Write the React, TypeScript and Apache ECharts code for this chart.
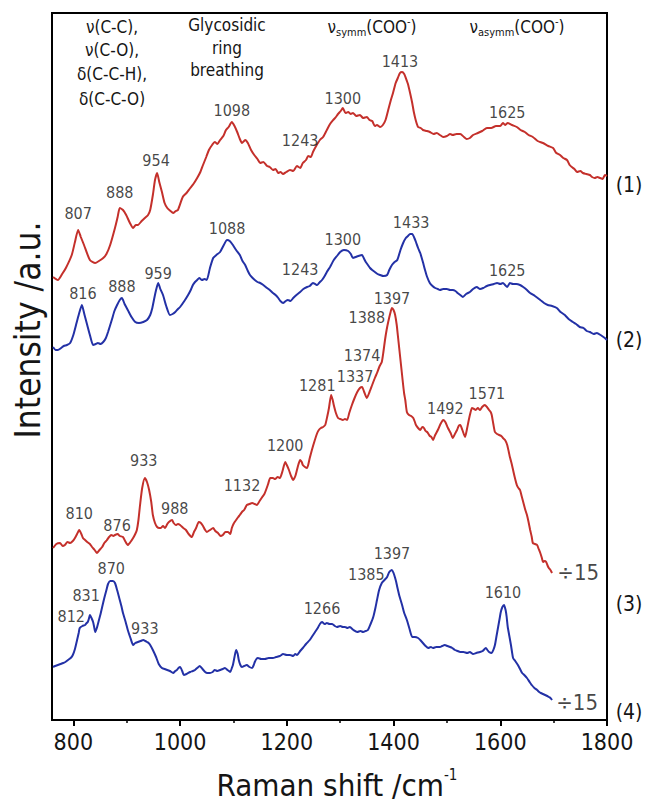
import React, { useEffect, useRef } from "react";
import * as echarts from "echarts";

// x axis: Raman shift (cm-1)
const xTicks = [800, 1000, 1200, 1400, 1600, 1800];
const xMinorTicks = [900, 1100, 1300, 1500, 1700];

// Spectrum (1) – red, top  [shift, intensity a.u.]
const spectrum1 = [
  [762, 443], [771, 440], [779, 446], [786, 452], [797, 465], [803, 478], [809, 490], [814, 483], [820, 475], [831, 460],
  [841, 457], [848, 459], [856, 462], [862, 466], [869, 475], [878, 492], [883, 503], [887, 512], [893, 510], [899, 505],
  [906, 497], [912, 492], [917, 495], [921, 495], [928, 499], [934, 502], [940, 505], [944, 510], [949, 525], [953, 540],
  [957, 547], [961, 538], [966, 528], [971, 517], [976, 512], [982, 509], [987, 507], [992, 509], [996, 510], [1005, 523],
  [1012, 527], [1019, 532], [1025, 536], [1032, 542], [1038, 548], [1043, 555], [1049, 563], [1054, 570], [1060, 575],
  [1065, 578], [1070, 576], [1075, 580], [1081, 584], [1086, 590], [1091, 593], [1097, 598], [1102, 594], [1107, 588],
  [1112, 581], [1116, 577], [1122, 580], [1127, 577], [1133, 570], [1139, 565], [1145, 561], [1150, 557], [1156, 558],
  [1163, 554], [1168, 553], [1174, 550], [1179, 551], [1184, 547], [1188, 548], [1193, 546], [1199, 548], [1206, 550],
  [1212, 549], [1219, 554], [1225, 552], [1230, 557], [1236, 560], [1240, 564], [1245, 563], [1249, 568], [1255, 574],
  [1262, 580], [1268, 583], [1275, 590], [1281, 596], [1287, 600], [1292, 603], [1296, 606], [1301, 609], [1305, 612],
  [1310, 607], [1315, 608], [1320, 606], [1324, 607], [1330, 604], [1337, 605], [1343, 602], [1350, 603], [1355, 600],
  [1360, 599], [1365, 594], [1369, 595], [1375, 593], [1380, 595], [1385, 600], [1390, 610], [1395, 620], [1399, 627],
  [1404, 637], [1408, 642], [1412, 647], [1416, 648], [1420, 646], [1423, 642], [1427, 636], [1431, 627], [1435, 617],
  [1438, 608], [1442, 599], [1446, 593], [1451, 592], [1455, 590], [1462, 589], [1468, 588], [1475, 586], [1481, 587],
  [1487, 585], [1493, 583], [1500, 584], [1506, 586], [1511, 585], [1518, 586], [1525, 586], [1532, 583], [1537, 581],
  [1543, 582], [1549, 585], [1558, 587], [1566, 589], [1575, 592], [1583, 592], [1592, 594], [1600, 594], [1605, 597],
  [1609, 595], [1614, 597], [1622, 595], [1631, 593], [1638, 590], [1646, 588], [1653, 585], [1661, 583], [1670, 579],
  [1680, 577], [1690, 574], [1699, 572], [1705, 567], [1712, 565], [1718, 562], [1725, 560], [1730, 555], [1734, 553],
  [1739, 551], [1744, 548], [1750, 549], [1755, 547], [1761, 546], [1768, 545], [1772, 543], [1777, 542], [1782, 543],
  [1787, 542], [1792, 541], [1796, 545], [1800, 544],
];

// Spectrum (2) – blue
const spectrum2 = [
  [762, 373], [767, 370], [771, 370], [777, 372], [782, 374], [788, 375], [794, 377], [800, 385], [805, 395], [810, 405],
  [816, 415], [821, 405], [826, 395], [831, 385], [837, 375], [842, 376], [846, 377], [851, 376], [856, 378], [861, 382],
  [865, 388], [872, 400], [877, 409], [882, 415], [887, 420], [891, 422], [896, 416], [902, 410], [909, 403], [916, 398],
  [923, 397], [931, 398], [938, 400], [944, 405], [948, 412], [951, 420], [955, 430], [959, 437], [963, 431], [968, 425],
  [974, 414], [981, 405], [986, 406], [991, 408], [996, 411], [1000, 413], [1008, 419], [1015, 425], [1020, 430],
  [1024, 435], [1028, 438], [1032, 440], [1036, 442], [1041, 440], [1046, 441], [1050, 440], [1056, 452], [1062, 462],
  [1068, 465], [1075, 468], [1081, 474], [1088, 480], [1093, 479], [1099, 475], [1105, 470], [1112, 465], [1117, 459],
  [1122, 455], [1127, 449], [1131, 445], [1136, 442], [1140, 440], [1145, 438], [1150, 437], [1156, 435], [1163, 432],
  [1168, 430], [1174, 427], [1179, 425], [1184, 422], [1188, 419], [1193, 417], [1198, 419], [1202, 420], [1207, 419],
  [1212, 422], [1218, 425], [1225, 428], [1231, 431], [1238, 433], [1243, 434], [1249, 437], [1253, 436], [1257, 435],
  [1262, 438], [1266, 440], [1271, 444], [1275, 448], [1281, 453], [1288, 460], [1294, 464], [1300, 468], [1307, 470],
  [1315, 469], [1320, 466], [1324, 462], [1329, 463], [1334, 464], [1341, 465], [1345, 461], [1348, 458], [1352, 455],
  [1356, 452], [1360, 450], [1365, 448], [1370, 446], [1375, 445], [1381, 444], [1388, 445], [1392, 450], [1397, 455],
  [1402, 458], [1407, 460], [1413, 470], [1418, 477], [1423, 482], [1427, 484], [1431, 486], [1435, 486], [1439, 482],
  [1442, 478], [1446, 472], [1450, 467], [1455, 458], [1459, 450], [1463, 443], [1468, 437], [1473, 434], [1478, 432],
  [1483, 431], [1487, 430], [1493, 431], [1500, 431], [1506, 430], [1511, 430], [1516, 429], [1520, 427], [1525, 425],
  [1530, 423], [1536, 426], [1543, 428], [1549, 431], [1556, 433], [1562, 431], [1568, 432], [1575, 434], [1581, 435],
  [1588, 436], [1594, 437], [1600, 436], [1605, 437], [1609, 435], [1613, 433], [1618, 437], [1624, 436], [1630, 436],
  [1637, 435], [1643, 433], [1650, 430], [1656, 427], [1665, 424], [1675, 420], [1682, 417], [1689, 415], [1697, 414],
  [1706, 412], [1713, 408], [1721, 405], [1728, 401], [1736, 398], [1742, 396], [1749, 393], [1756, 392], [1762, 389],
  [1768, 388], [1775, 386], [1781, 387], [1788, 385], [1796, 382], [1800, 380],
];

// Spectrum (3) – red, divided by 15
const spectrum3 = [
  [762, 172], [768, 176], [775, 177], [780, 174], [784, 175], [789, 178], [794, 177], [799, 179], [803, 182], [807, 186],
  [811, 190], [815, 186], [818, 182], [822, 180], [826, 178], [831, 176], [835, 173], [840, 170], [844, 167], [849, 170],
  [854, 173], [858, 177], [863, 180], [867, 183], [871, 185], [875, 184], [878, 185], [883, 186], [887, 184], [893, 183],
  [897, 179], [902, 175], [907, 178], [912, 182], [916, 186], [919, 190], [922, 200], [925, 215], [929, 232], [934, 242],
  [938, 238], [942, 230], [946, 218], [949, 205], [953, 197], [957, 193], [961, 192], [964, 192], [968, 194], [972, 192],
  [976, 196], [979, 198], [985, 200], [988, 197], [992, 195], [996, 196], [1000, 195], [1006, 192], [1011, 190],
  [1016, 186], [1022, 183], [1026, 188], [1030, 192], [1035, 198], [1039, 197], [1043, 194], [1047, 190], [1050, 188],
  [1056, 190], [1062, 192], [1066, 189], [1071, 187], [1076, 184], [1080, 185], [1085, 188], [1090, 188], [1094, 186],
  [1097, 192], [1101, 197], [1105, 200], [1109, 203], [1112, 205], [1116, 208], [1120, 210], [1123, 213], [1125, 215],
  [1130, 216], [1135, 217], [1140, 216], [1144, 215], [1149, 219], [1154, 223], [1158, 226], [1161, 230], [1165, 236],
  [1169, 242], [1174, 242], [1178, 241], [1183, 243], [1187, 242], [1192, 249], [1197, 258], [1200, 255], [1204, 250],
  [1208, 244], [1212, 240], [1216, 244], [1219, 250], [1222, 256], [1225, 260], [1228, 258], [1230, 255], [1234, 253],
  [1238, 252], [1243, 262], [1247, 270], [1252, 279], [1257, 287], [1260, 290], [1264, 292], [1268, 293], [1272, 295],
  [1276, 304], [1279, 312], [1283, 325], [1286, 320], [1288, 315], [1292, 307], [1296, 302], [1300, 301], [1305, 300],
  [1309, 301], [1313, 300], [1317, 307], [1322, 315], [1327, 322], [1332, 328], [1337, 332], [1341, 333], [1345, 328],
  [1350, 322], [1355, 328], [1360, 335], [1365, 342], [1369, 347], [1374, 354], [1378, 358], [1381, 368], [1384, 380],
  [1387, 390], [1390, 398], [1394, 407], [1397, 412], [1400, 410], [1403, 405], [1406, 395], [1408, 385], [1411, 370],
  [1414, 355], [1416, 345], [1418, 335], [1420, 326], [1422, 320], [1425, 308], [1429, 305], [1433, 304], [1437, 302],
  [1440, 298], [1442, 295], [1446, 292], [1450, 290], [1454, 293], [1457, 292], [1460, 289], [1463, 288], [1468, 284],
  [1471, 283], [1474, 280], [1478, 285], [1483, 290], [1488, 296], [1493, 300], [1497, 298], [1502, 292], [1507, 287],
  [1511, 282], [1515, 286], [1519, 290], [1522, 294], [1525, 295], [1529, 290], [1534, 283], [1538, 292], [1541, 300],
  [1544, 307], [1547, 312], [1551, 311], [1554, 310], [1558, 312], [1562, 310], [1566, 313], [1571, 315], [1575, 313],
  [1579, 310], [1582, 308], [1584, 305], [1587, 296], [1590, 288], [1594, 286], [1598, 285], [1602, 284], [1605, 282],
  [1609, 280], [1613, 275], [1616, 268], [1618, 263], [1621, 257], [1624, 250], [1627, 243], [1631, 235], [1634, 232],
  [1637, 230], [1640, 224], [1643, 218], [1647, 210], [1650, 205], [1653, 198], [1656, 190], [1659, 183], [1661, 177],
  [1665, 176], [1669, 175], [1672, 171], [1675, 167], [1678, 162], [1680, 158], [1683, 159], [1686, 158], [1689, 154],
  [1691, 152], [1694, 150], [1697, 147],
];

// Spectrum (4) – blue, divided by 15
const spectrum4 = [
  [762, 53], [766, 54], [771, 55], [776, 56], [781, 57], [785, 58], [790, 60], [795, 62], [799, 65], [803, 71],
  [807, 80], [810, 87], [812, 92], [817, 94], [822, 95], [825, 97], [827, 98], [829, 101], [831, 105], [834, 102],
  [837, 98], [839, 93], [841, 88], [844, 92], [848, 100], [851, 106], [854, 113], [858, 122], [862, 130], [865, 136],
  [869, 139], [874, 139], [878, 137], [882, 130], [886, 122], [890, 114], [893, 107], [898, 98], [902, 90], [907, 82],
  [912, 75], [916, 77], [921, 78], [926, 79], [931, 80], [935, 79], [938, 78], [941, 77], [944, 75], [949, 70],
  [955, 63], [960, 56], [966, 52], [971, 51], [976, 50], [981, 49], [987, 47], [991, 49], [994, 50], [997, 52],
  [1000, 53], [1004, 49], [1007, 45], [1012, 46], [1019, 48], [1024, 49], [1028, 50], [1032, 52], [1037, 54],
  [1042, 51], [1047, 48], [1051, 47], [1056, 47], [1061, 48], [1065, 50], [1070, 49], [1075, 50], [1080, 51],
  [1084, 52], [1089, 50], [1094, 48], [1097, 52], [1099, 55], [1102, 63], [1105, 70], [1108, 66], [1110, 60],
  [1113, 55], [1116, 53], [1120, 54], [1125, 55], [1130, 53], [1135, 52], [1138, 55], [1140, 58], [1143, 61],
  [1146, 62], [1152, 61], [1159, 61], [1166, 62], [1174, 62], [1180, 63], [1187, 64], [1193, 66], [1200, 65],
  [1206, 65], [1212, 64], [1216, 66], [1219, 65], [1225, 69], [1230, 72], [1236, 76], [1243, 80], [1248, 84],
  [1253, 88], [1258, 92], [1262, 96], [1266, 98], [1271, 96], [1275, 97], [1280, 96], [1285, 96], [1290, 94],
  [1294, 93], [1300, 94], [1305, 93], [1309, 93], [1314, 92], [1318, 93], [1325, 90], [1332, 88], [1338, 89],
  [1343, 88], [1348, 89], [1352, 90], [1357, 96], [1362, 103], [1366, 112], [1369, 120], [1373, 130], [1378, 137],
  [1383, 140], [1388, 143], [1392, 148], [1397, 150], [1400, 147], [1403, 142], [1405, 138], [1407, 133], [1411, 124],
  [1416, 115], [1420, 107], [1425, 100], [1430, 91], [1435, 83], [1440, 83], [1446, 82], [1450, 80], [1455, 77],
  [1460, 74], [1465, 72], [1470, 73], [1474, 72], [1480, 73], [1487, 73], [1491, 74], [1496, 75], [1501, 74],
  [1506, 73], [1510, 72], [1515, 70], [1520, 69], [1525, 68], [1531, 68], [1538, 67], [1543, 68], [1549, 66],
  [1555, 67], [1562, 68], [1567, 69], [1573, 72], [1576, 70], [1579, 68], [1584, 67], [1587, 70], [1590, 75],
  [1593, 84], [1596, 93], [1599, 102], [1601, 108], [1604, 113], [1607, 115], [1610, 110], [1612, 103], [1614, 93],
  [1617, 84], [1620, 75], [1622, 68], [1624, 62], [1628, 59], [1633, 55], [1637, 51], [1641, 47], [1645, 45],
  [1650, 42], [1655, 38], [1659, 35], [1664, 32], [1669, 30], [1673, 28], [1676, 27], [1680, 26], [1684, 25],
  [1688, 24], [1691, 23], [1694, 22], [1697, 20],
];

// Peak annotations: [shift, intensity, text]
const peaks1 = [
  [809, 507, "807"], [887, 528, "888"], [955, 560, "954"], [1097, 610, "1098"],
  [1225, 580, "1243"], [1305, 622, "1300"], [1412, 659, "1413"], [1613, 608, "1625"],
];
const peaks2 = [
  [818, 427, "816"], [891, 434, "888"], [959, 447, "959"], [1088, 492, "1088"],
  [1225, 451, "1243"], [1305, 481, "1300"], [1433, 498, "1433"], [1613, 450, "1625"],
];
const peaks3 = [
  [811, 207, "810"], [882, 195, "876"], [932, 260, "933"], [990, 212, "988"],
  [1116, 235, "1132"], [1197, 275, "1200"], [1257, 335, "1281"], [1328, 344, "1337"],
  [1341, 365, "1374"], [1350, 403, "1388"], [1397, 422, "1397"], [1497, 312, "1492"],
  [1575, 327, "1571"],
];
const peaks4 = [
  [796, 104, "812"], [824, 125, "831"], [871, 152, "870"], [934, 92, "933"],
  [1266, 112, "1266"], [1349, 146, "1385"], [1397, 167, "1397"], [1605, 128, "1610"],
];
const scaleNotes = [
  [1746, 148, "÷15"], [1744, 18, "÷15"],
];

const FONT = "'DejaVu Sans Condensed', 'DejaVu Sans', sans-serif";
const RED = "#c4302b";
const BLUE = "#2331a6";
const INK = "#151515";

function lineSeries(points: number[][], color: string) {
  return {
    type: "line",
    data: points,
    showSymbol: false,
    smooth: 0.2,
    lineStyle: { color, width: 2 },
    itemStyle: { color },
    silent: true,
    z: 3,
  };
}

function labelSeries(items: any[][], fontSize: number) {
  return {
    type: "scatter",
    data: items.map(([x, y, t]) => ({ value: [x, y], name: t })),
    symbolSize: 1,
    itemStyle: { color: "rgba(0,0,0,0)" },
    label: {
      show: true,
      position: "inside",
      formatter: "{b}",
      color: INK,
      fontSize,
      fontFamily: FONT,
    },
    silent: true,
    z: 5,
  };
}

function headerText(text: string, x: number, y: number, extra: any = {}) {
  return {
    type: "text",
    x,
    y,
    style: {
      text,
      fontSize: 17,
      fontFamily: FONT,
      fill: INK,
      align: "center",
      verticalAlign: "middle",
      ...extra,
    },
    silent: true,
  };
}

export default function App() {
  const ref = useRef<HTMLDivElement>(null);
  useEffect(() => {
    document.body.style.margin = "0";
    const chart = echarts.init(ref.current!, null, { renderer: "svg" });
    const option: any = {
      animation: false,
      backgroundColor: "#ffffff",
      grid: {
        left: 52,
        right: 43,
        top: 13,
        bottom: 84,
        show: true,
        borderColor: "#000",
        borderWidth: 2,
      },
      xAxis: [
        {
          type: "value",
          min: 760,
          max: 1800,
          axisLine: { show: true, lineStyle: { color: "#000", width: 2 } },
          axisTick: {
            show: true,
            customValues: xTicks,
            length: 6,
            lineStyle: { color: "#000", width: 2 },
          },
          axisLabel: {
            show: true,
            customValues: xTicks,
            formatter: (v: number) => String(v),
            fontSize: 23,
            fontFamily: FONT,
            color: INK,
            margin: 10,
          },
          splitLine: { show: false },
        },
        {
          type: "value",
          min: 760,
          max: 1800,
          position: "bottom",
          axisLine: { show: false },
          axisTick: {
            show: true,
            customValues: xMinorTicks,
            length: 3,
            lineStyle: { color: "#000", width: 1.5 },
          },
          axisLabel: { show: false },
          splitLine: { show: false },
        },
      ],
      yAxis: {
        type: "value",
        min: 0,
        max: 707,
        axisLine: { show: true, lineStyle: { color: "#000", width: 2 } },
        axisTick: { show: false },
        axisLabel: { show: false },
        splitLine: { show: false },
      },
      series: [
        lineSeries(spectrum1, RED),
        lineSeries(spectrum2, BLUE),
        lineSeries(spectrum3, RED),
        lineSeries(spectrum4, BLUE),
        labelSeries(peaks1, 16),
        labelSeries(peaks2, 16),
        labelSeries(peaks3, 16),
        labelSeries(peaks4, 16),
        labelSeries(scaleNotes, 22),
      ],
      graphic: [
        headerText("ν(C-C),", 112, 27),
        headerText("ν(C-O),", 112, 50),
        headerText("δ(C-C-H),", 112, 74),
        headerText("δ(C-C-O)", 112, 99),
        headerText("Glycosidic", 227, 25),
        headerText("ring", 227, 48),
        headerText("breathing", 227, 70),
        headerText("{a|ν}{s|symm}{a|(COO}{p|-}{a|)}", 372, 27, {
          rich: {
            a: { fontSize: 17, fontFamily: FONT, fill: INK, lineHeight: 22 },
            s: { fontSize: 11, fontFamily: FONT, fill: INK, lineHeight: 12, verticalAlign: "bottom" },
            p: { fontSize: 11, fontFamily: FONT, fill: INK, lineHeight: 16, verticalAlign: "top" },
          },
        }),
        headerText("{a|ν}{s|asymm}{a|(COO}{p|-}{a|)}", 517, 27, {
          rich: {
            a: { fontSize: 17, fontFamily: FONT, fill: INK, lineHeight: 22 },
            s: { fontSize: 11, fontFamily: FONT, fill: INK, lineHeight: 12, verticalAlign: "bottom" },
            p: { fontSize: 11, fontFamily: FONT, fill: INK, lineHeight: 16, verticalAlign: "top" },
          },
        }),
        headerText("(1)", 629, 185, { fontSize: 21 }),
        headerText("(2)", 629, 340, { fontSize: 21 }),
        headerText("(3)", 629, 604, { fontSize: 21 }),
        headerText("(4)", 629, 712, { fontSize: 21 }),
        {
          type: "text",
          x: 28,
          y: 330,
          rotation: Math.PI / 2,
          style: {
            text: "Intensity /a.u.",
            fontSize: 35,
            fontFamily: FONT,
            fill: INK,
            align: "center",
            verticalAlign: "middle",
          },
          silent: true,
        },
        headerText("{a|Raman shift /cm}{p|-1}", 337, 785, {
          rich: {
            a: { fontSize: 31, fontFamily: FONT, fill: INK, lineHeight: 36 },
            p: { fontSize: 15, fontFamily: FONT, fill: INK, lineHeight: 26, verticalAlign: "top" },
          },
        }),
      ],
    };
    chart.setOption(option);
    return () => chart.dispose();
  }, []);
  return <div ref={ref} style={{ width: 650, height: 804 }} />;
}
